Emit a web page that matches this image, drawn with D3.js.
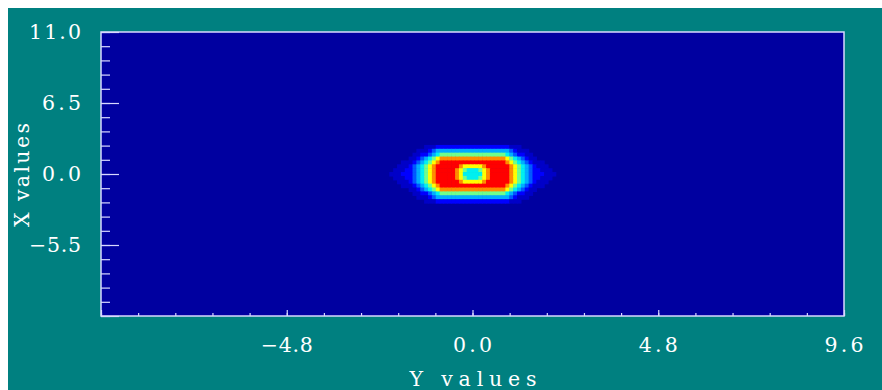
<!DOCTYPE html>
<html><head><meta charset="utf-8">
<script src="https://cdn.jsdelivr.net/npm/d3@7"></script>
<style>html,body{margin:0;padding:0;background:#fff;overflow:hidden}</style>
</head><body>
<svg id="c" width="882" height="390"></svg>
<script>
// ---- data ----
const xTickValues = [-9.6,-8.64,-7.68,-6.72,-5.76,-4.8,-3.84,-2.88,-1.92,-0.96,0,0.96,1.92,2.88,3.84,4.8,5.76,6.72,7.68,8.64,9.6];
const xMajorTicks = [-9.6,-4.8,0,4.8,9.6];
const xLabelValues = [-4.8,0,4.8,9.6];
const xLabels = ["\u22124.8","0.0","4.8","9.6"];
const yTickValues = [-11,-9.9,-8.8,-7.7,-6.6,-5.5,-4.4,-3.3,-2.2,-1.1,0,1.1,2.2,3.3,4.4,5.5,6.6,7.7,8.8,9.9,11];
const yMajorTicks = [-11,-5.5,0,5.5,11];
const yLabelValues = [11,5.5,0,-5.5];
const yLabels = ["11.0","6.5","0.0","\u22125.5"];
const xTitle = "Y values";
const yTitle = "X values";
// heat grid: column centres (x), row centres (y), level per cell (0..9)
const heatXs = [-2.2,-2.1,-2.0,-1.9,-1.8,-1.7,-1.6,-1.5,-1.4,-1.3,-1.2,-1.1,-1.0,-0.9,-0.8,-0.7,-0.6,-0.5,-0.4,-0.3,-0.2,-0.1,0,
                0.1,0.2,0.3,0.4,0.5,0.6,0.7,0.8,0.9,1.0,1.1,1.2,1.3,1.4,1.5,1.6,1.7,1.8,1.9,2.0,2.1,2.2];
const heatYs = [2.1,1.8,1.5,1.2,0.9,0.6,0.3,0,-0.3,-0.6,-0.9,-1.2,-1.5,-1.8,-2.1];
const heatRows = [
  "000000000011122222222222222222221110000000000",
  "000000001112344444444444444444443211100000000",
  "000000011223456666666666666666654322110000000",
  "000000112345678888888888888888876543211000000",
  "000011123456789999999999999999987654321110000",
  "000111234567899999987777789999998765432111000",
  "001112234567899999876555678999998765432211100",
  "011122234567899999875555578999998765432221110",
  "001112234567899999876555678999998765432211100",
  "000111234567899999987777789999998765432111000",
  "000011123456789999999999999999987654321110000",
  "000000112345678888888888888888876543211000000",
  "000000011223456666666666666666654322110000000",
  "000000001112344444444444444444443211100000000",
  "000000000011122222222222222222221110000000000"
];
const levelColors = ["#0000a0","#0000c8","#0000ff","#0058ff","#00acff","#00f0f0","#70ff8c","#ffff00","#ff8c00","#ff0000"];

// ---- layout ----
const svg = d3.select("#c");
const L = 101, R = 844, T = 32, B = 316;
const x = d3.scaleLinear().domain([-9.6, 9.6]).range([L, R]);
const y = d3.scaleLinear().domain([-11, 11]).range([B, T]);
const font = "'DejaVu Serif', 'Liberation Serif', serif";
const tickColor = "#d8d8ff";
const charW = 13;
const fs = 20.5;

svg.append("rect").attr("x",0).attr("y",0).attr("width",882).attr("height",390).attr("fill","#fff");
svg.append("rect").attr("x",8).attr("y",8).attr("width",874).attr("height",382).attr("fill","#008080");
svg.append("rect").attr("x",L).attr("y",T).attr("width",R-L).attr("height",B-T).attr("fill",levelColors[0]);

// heat cells
const cw = Math.abs(x(heatXs[1]) - x(heatXs[0]));
const ch = Math.abs(y(heatYs[1]) - y(heatYs[0]));
const cells = [];
heatRows.forEach((row, r) => {
  for (let c = 0; c < row.length; c++) {
    const v = +row[c];
    if (v > 0) cells.push({x: heatXs[c], y: heatYs[r], v});
  }
});
svg.append("g").selectAll("rect").data(cells).join("rect")
  .attr("x", d => x(d.x) - cw/2)
  .attr("y", d => y(d.y) - ch/2)
  .attr("width", cw + 0.6)
  .attr("height", ch + 0.6)
  .attr("fill", d => levelColors[d.v]);

// axes ticks
function styleAxis(g){
  g.select(".domain").remove();
  g.selectAll("text").remove();
  g.selectAll("line").attr("stroke", tickColor).attr("stroke-width", 1.2);
}
svg.append("g").attr("transform",`translate(0,${B})`)
  .call(d3.axisBottom(x).tickValues(xTickValues).tickSizeInner(-3).tickSizeOuter(0)).call(styleAxis);
svg.append("g").attr("transform",`translate(0,${B})`)
  .call(d3.axisBottom(x).tickValues(xMajorTicks).tickSizeInner(-6).tickSizeOuter(0)).call(styleAxis);
svg.append("g").attr("transform",`translate(${L},0)`)
  .call(d3.axisLeft(y).tickValues(yTickValues).tickSizeInner(-9).tickSizeOuter(0)).call(styleAxis);
svg.append("g").attr("transform",`translate(${L},0)`)
  .call(d3.axisLeft(y).tickValues(yMajorTicks).tickSizeInner(-18).tickSizeOuter(0)).call(styleAxis);

// border
svg.append("rect").attr("x",L).attr("y",T).attr("width",R-L).attr("height",B-T)
  .attr("fill","none").attr("stroke",tickColor).attr("stroke-width",1.5);

// labels
svg.append("g").selectAll("text").data(xLabelValues).join("text")
  .attr("x", d => x(d)).attr("y", 352)
  .attr("text-anchor","middle").attr("fill","#fff")
  .attr("font-family",font).attr("font-size",fs)
  .attr("textLength",(d,i) => xLabels[i].length * charW).attr("lengthAdjust","spacing")
  .text((d,i) => xLabels[i]);
svg.append("g").selectAll("text").data(yLabelValues).join("text")
  .attr("x", 81).attr("y", d => y(d) + 7)
  .attr("text-anchor","end").attr("fill","#fff")
  .attr("font-family",font).attr("font-size",fs)
  .attr("textLength",(d,i) => yLabels[i].length * charW).attr("lengthAdjust","spacing")
  .text((d,i) => yLabels[i]);

svg.append("text").attr("x",473).attr("y",386)
  .attr("text-anchor","middle").attr("fill","#fff")
  .attr("font-family",font).attr("font-size",fs)
  .attr("textLength",127).attr("lengthAdjust","spacing")
  .text(xTitle);
svg.append("text").attr("transform","translate(29,175) rotate(-90)")
  .attr("text-anchor","middle").attr("fill","#fff")
  .attr("font-family",font).attr("font-size",fs)
  .attr("textLength",104).attr("lengthAdjust","spacing")
  .text(yTitle);
</script>
</body></html>
